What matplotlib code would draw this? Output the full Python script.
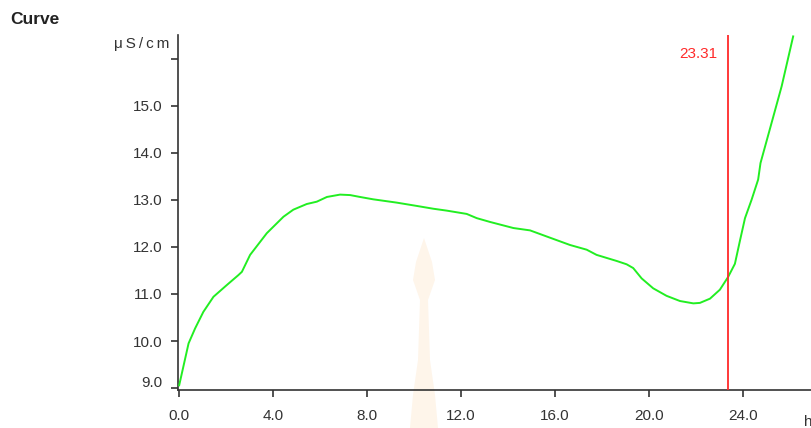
import matplotlib
matplotlib.use('Agg')
import matplotlib.pyplot as plt
import matplotlib.transforms as mtransforms
from matplotlib.patches import Polygon

plt.rcParams['font.family'] = ['Liberation Sans', 'DejaVu Sans']

# conductivity curve
hours = [0.0, 0.40, 0.68, 1.03, 1.46, 2.03, 2.52, 2.67, 3.02, 3.73, 4.44, 4.86,
         5.43, 5.86, 6.29, 6.85, 7.28, 7.70, 8.26, 9.26, 10.11, 10.82, 11.39,
         12.24, 12.67, 13.23, 14.23, 14.94, 15.65, 16.64, 17.35, 17.77, 18.63,
         19.05, 19.33, 19.69, 20.18, 20.75, 21.32, 21.89, 22.17, 22.60, 23.02,
         23.37, 23.66, 23.87, 24.09, 24.37, 24.65, 24.75, 25.22, 25.65, 26.14]
cond = [9.06, 9.95, 10.27, 10.62, 10.94, 11.19, 11.40, 11.47, 11.83, 12.29,
        12.64, 12.79, 12.91, 12.96, 13.06, 13.11, 13.10, 13.06, 13.01, 12.94,
        12.87, 12.81, 12.77, 12.70, 12.61, 12.53, 12.40, 12.35, 12.22, 12.04,
        11.94, 11.83, 11.70, 11.63, 11.55, 11.33, 11.12, 10.96, 10.85, 10.80,
        10.81, 10.90, 11.09, 11.36, 11.64, 12.12, 12.61, 13.00, 13.43, 13.78,
        14.63, 15.41, 16.47]

marker_x = 23.37
marker_label = '23.31'
xticks = [0, 4, 8, 12, 16, 20, 24]
yticks = [9, 10, 11, 12, 13, 14, 15, 16]

W, H = 811, 428
fig = plt.figure(figsize=(W / 100, H / 100), dpi=100)

# faint watermark behind the chart
tower = [(410, 428), (413, 395), (418, 360), (420, 300), (413, 280), (416, 262),
         (424, 238), (432, 262), (435, 280), (428, 300), (430, 360), (435, 395),
         (438, 428)]
fig.add_artist(Polygon([(x, H - y) for x, y in tower], closed=True,
                       transform=None, facecolor='#fef5ea', edgecolor='none',
                       zorder=0))

ax = fig.add_axes([178 / W, (H - 390) / H, (W - 178) / W, 355 / H])
ax.patch.set_alpha(0)

ax.plot(hours, cond, color='#22ee22', lw=1.4, zorder=3)
ax.axvline(marker_x, color='#ff2a2a', lw=1.3, zorder=4)
ax.text(marker_x - 0.45, 16.1, marker_label, color='#ff2a2a', fontsize=11,
        ha='right', va='center')

ax.set_xlim(-0.05, 26.9)
ax.set_ylim(8.96, 16.5)
ax.set_xticks(xticks)
ax.set_xticklabels([f'{t:.1f}' for t in xticks])
ax.set_yticks(yticks)
ax.set_yticklabels([f'{t:.1f}' if t < 16 else '' for t in yticks])

for s in ['top', 'right']:
    ax.spines[s].set_visible(False)
for s in ['left', 'bottom']:
    ax.spines[s].set_color('#333333')
    ax.spines[s].set_linewidth(1.2)
ax.tick_params(direction='out', length=5, width=1.2, color='#333333',
               labelsize=11, labelcolor='#333333')
ax.tick_params(axis='y', pad=6)
ax.tick_params(axis='x', pad=9)

# lowest y label sits a bit higher so it clears the x axis
lbl = ax.get_yticklabels()[0]
lbl.set_transform(lbl.get_transform() +
                  mtransforms.ScaledTranslation(0, 7 / 100, fig.dpi_scale_trans))

ax.text(-0.4, 16.15, '\u2009'.join('μS/cm'), fontsize=11, color='#333333',
        ha='right', va='bottom')
fig.text(804 / W, 1 - 422 / H, 'h', fontsize=11, color='#333333',
         ha='left', va='center')
fig.text(10 / W, 1 - 20 / H, 'Curve', fontsize=12.5, fontweight='bold',
         color='#222222', ha='left', va='center')

fig.savefig('out.png', dpi=100)
